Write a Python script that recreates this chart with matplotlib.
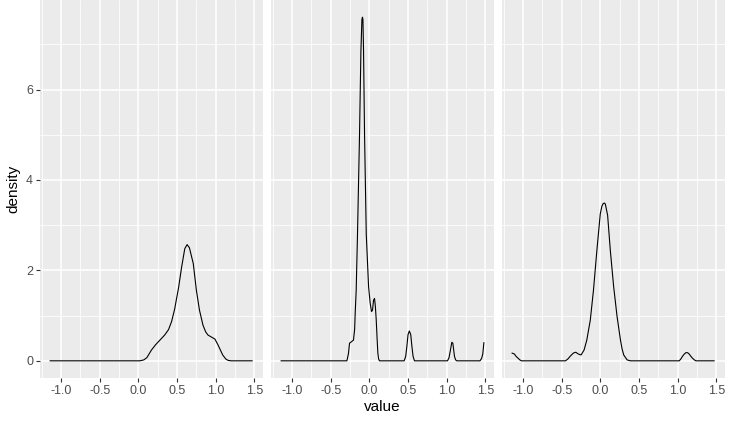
import matplotlib.pyplot as plt
from matplotlib.ticker import MultipleLocator

# density curves, one per facet
x1 = [-1.14, 0.02, 0.07, 0.11, 0.17, 0.22, 0.28, 0.34, 0.39, 0.43, 0.47,
      0.49, 0.52, 0.56, 0.60, 0.63, 0.66, 0.71, 0.75, 0.79, 0.835, 0.87,
      0.90, 0.95, 0.99, 1.03, 1.06, 1.09, 1.13, 1.16, 1.20, 1.47]
y1 = [0.0, 0.0, 0.02, 0.07, 0.24, 0.35, 0.46, 0.57, 0.69, 0.87, 1.15,
      1.34, 1.62, 2.08, 2.48, 2.57, 2.50, 2.15, 1.56, 1.12, 0.79, 0.64,
      0.57, 0.52, 0.48, 0.35, 0.24, 0.13, 0.04, 0.01, 0.0, 0.0]

x2 = [-1.14, -0.29, -0.27, -0.256, -0.225, -0.205, -0.19, -0.183, -0.17,
      -0.153, -0.127, -0.109, -0.096, -0.089, -0.083, -0.075, -0.062, -0.04,
      -0.01, 0.011, 0.028, 0.041, 0.054, 0.067, 0.078, 0.089, 0.10, 0.11,
      0.12, 0.131, 0.45, 0.47, 0.485, 0.50, 0.517, 0.535, 0.55, 0.565,
      0.583, 1.01, 1.03, 1.044, 1.066, 1.079, 1.09, 1.10, 1.115, 1.13,
      1.43, 1.45, 1.466, 1.48]
y2 = [0.0, 0.0, 0.16, 0.39, 0.43, 0.46, 0.70, 1.05, 1.56,
      2.81, 5.00, 6.85, 7.55, 7.60, 7.55, 6.85, 5.00, 2.81,
      1.64, 1.27, 1.09, 1.12, 1.34, 1.38, 1.20, 0.90, 0.50, 0.17,
      0.04, 0.0, 0.0, 0.10, 0.32, 0.58, 0.66, 0.58, 0.32, 0.10,
      0.0, 0.0, 0.07, 0.20, 0.41, 0.39, 0.24, 0.10, 0.02, 0.0,
      0.0, 0.05, 0.15, 0.40]

x3 = [-1.14, -1.11, -1.09, -1.065, -1.04, -1.02, -0.45, -0.42, -0.39, -0.35,
      -0.318, -0.284, -0.249, -0.21, -0.175, -0.13, -0.089, -0.045, -0.001,
      0.02, 0.034, 0.05, 0.064, 0.094, 0.129, 0.172, 0.216, 0.26, 0.28,
      0.302, 0.346, 0.39, 1.02, 1.04, 1.062, 1.085, 1.105, 1.128, 1.148,
      1.17, 1.19, 1.215, 1.235, 1.47]
y3 = [0.17, 0.15, 0.10, 0.06, 0.02, 0.0, 0.0, 0.04, 0.10, 0.17,
      0.19, 0.15, 0.13, 0.24, 0.46, 0.90, 1.56, 2.44, 3.25,
      3.42, 3.47, 3.49, 3.47, 3.22, 2.44, 1.64, 0.98, 0.46, 0.27,
      0.13, 0.02, 0.0, 0.0, 0.04, 0.10, 0.15, 0.18, 0.18, 0.15,
      0.10, 0.06, 0.02, 0.0, 0.0]

curves = [(x1, y1), (x2, y2), (x3, y3)]

plt.rcParams['font.family'] = ['Liberation Sans', 'DejaVu Sans']

fig = plt.figure(figsize=(7.34, 4.23), dpi=100)
W, H = 734, 423
lefts = [40, 271, 502]
pw = 223
bottom, top = 378, 0

xmin = min(min(c[0]) for c in curves)
xmax = max(max(c[0]) for c in curves)
ymax = max(max(c[1]) for c in curves)
xpad = (xmax - xmin) * 0.05
ypad = ymax * 0.05

axes = []
for i, (xs, ys) in enumerate(curves):
    ax = fig.add_axes([lefts[i] / W, 1 - bottom / H, pw / W, (bottom - top) / H])
    ax.set_facecolor('#EBEBEB')
    ax.plot(xs, ys, color='black', lw=0.8, solid_joinstyle='round')
    ax.set_xlim(xmin - xpad, xmax + xpad)
    ax.set_ylim(-ypad, ymax + ypad)
    ax.xaxis.set_major_locator(MultipleLocator(0.5))
    ax.xaxis.set_minor_locator(MultipleLocator(0.25))
    ax.yaxis.set_major_locator(MultipleLocator(2))
    ax.yaxis.set_minor_locator(MultipleLocator(1))
    ax.grid(which='major', color='white', lw=1.1)
    ax.grid(which='minor', color='white', lw=0.55)
    ax.set_axisbelow(True)
    for s in ax.spines.values():
        s.set_visible(False)
    ax.tick_params(which='minor', length=0)
    ax.tick_params(which='major', length=3, width=0.8, color='#333333',
                   labelcolor='#4D4D4D', labelsize=9, pad=2)
    ax.set_xticks([-1.0, -0.5, 0.0, 0.5, 1.0, 1.5])
    ax.set_xticklabels(['-1.0', '-0.5', '0.0', '0.5', '1.0', '1.5'])
    if i > 0:
        ax.tick_params(axis='y', which='both', left=False, labelleft=False)
    axes.append(ax)

axes[0].set_ylabel('density', fontsize=11, labelpad=4)
axes[1].set_xlabel('value', fontsize=11, labelpad=2)

fig.savefig('out.png', dpi=100)
